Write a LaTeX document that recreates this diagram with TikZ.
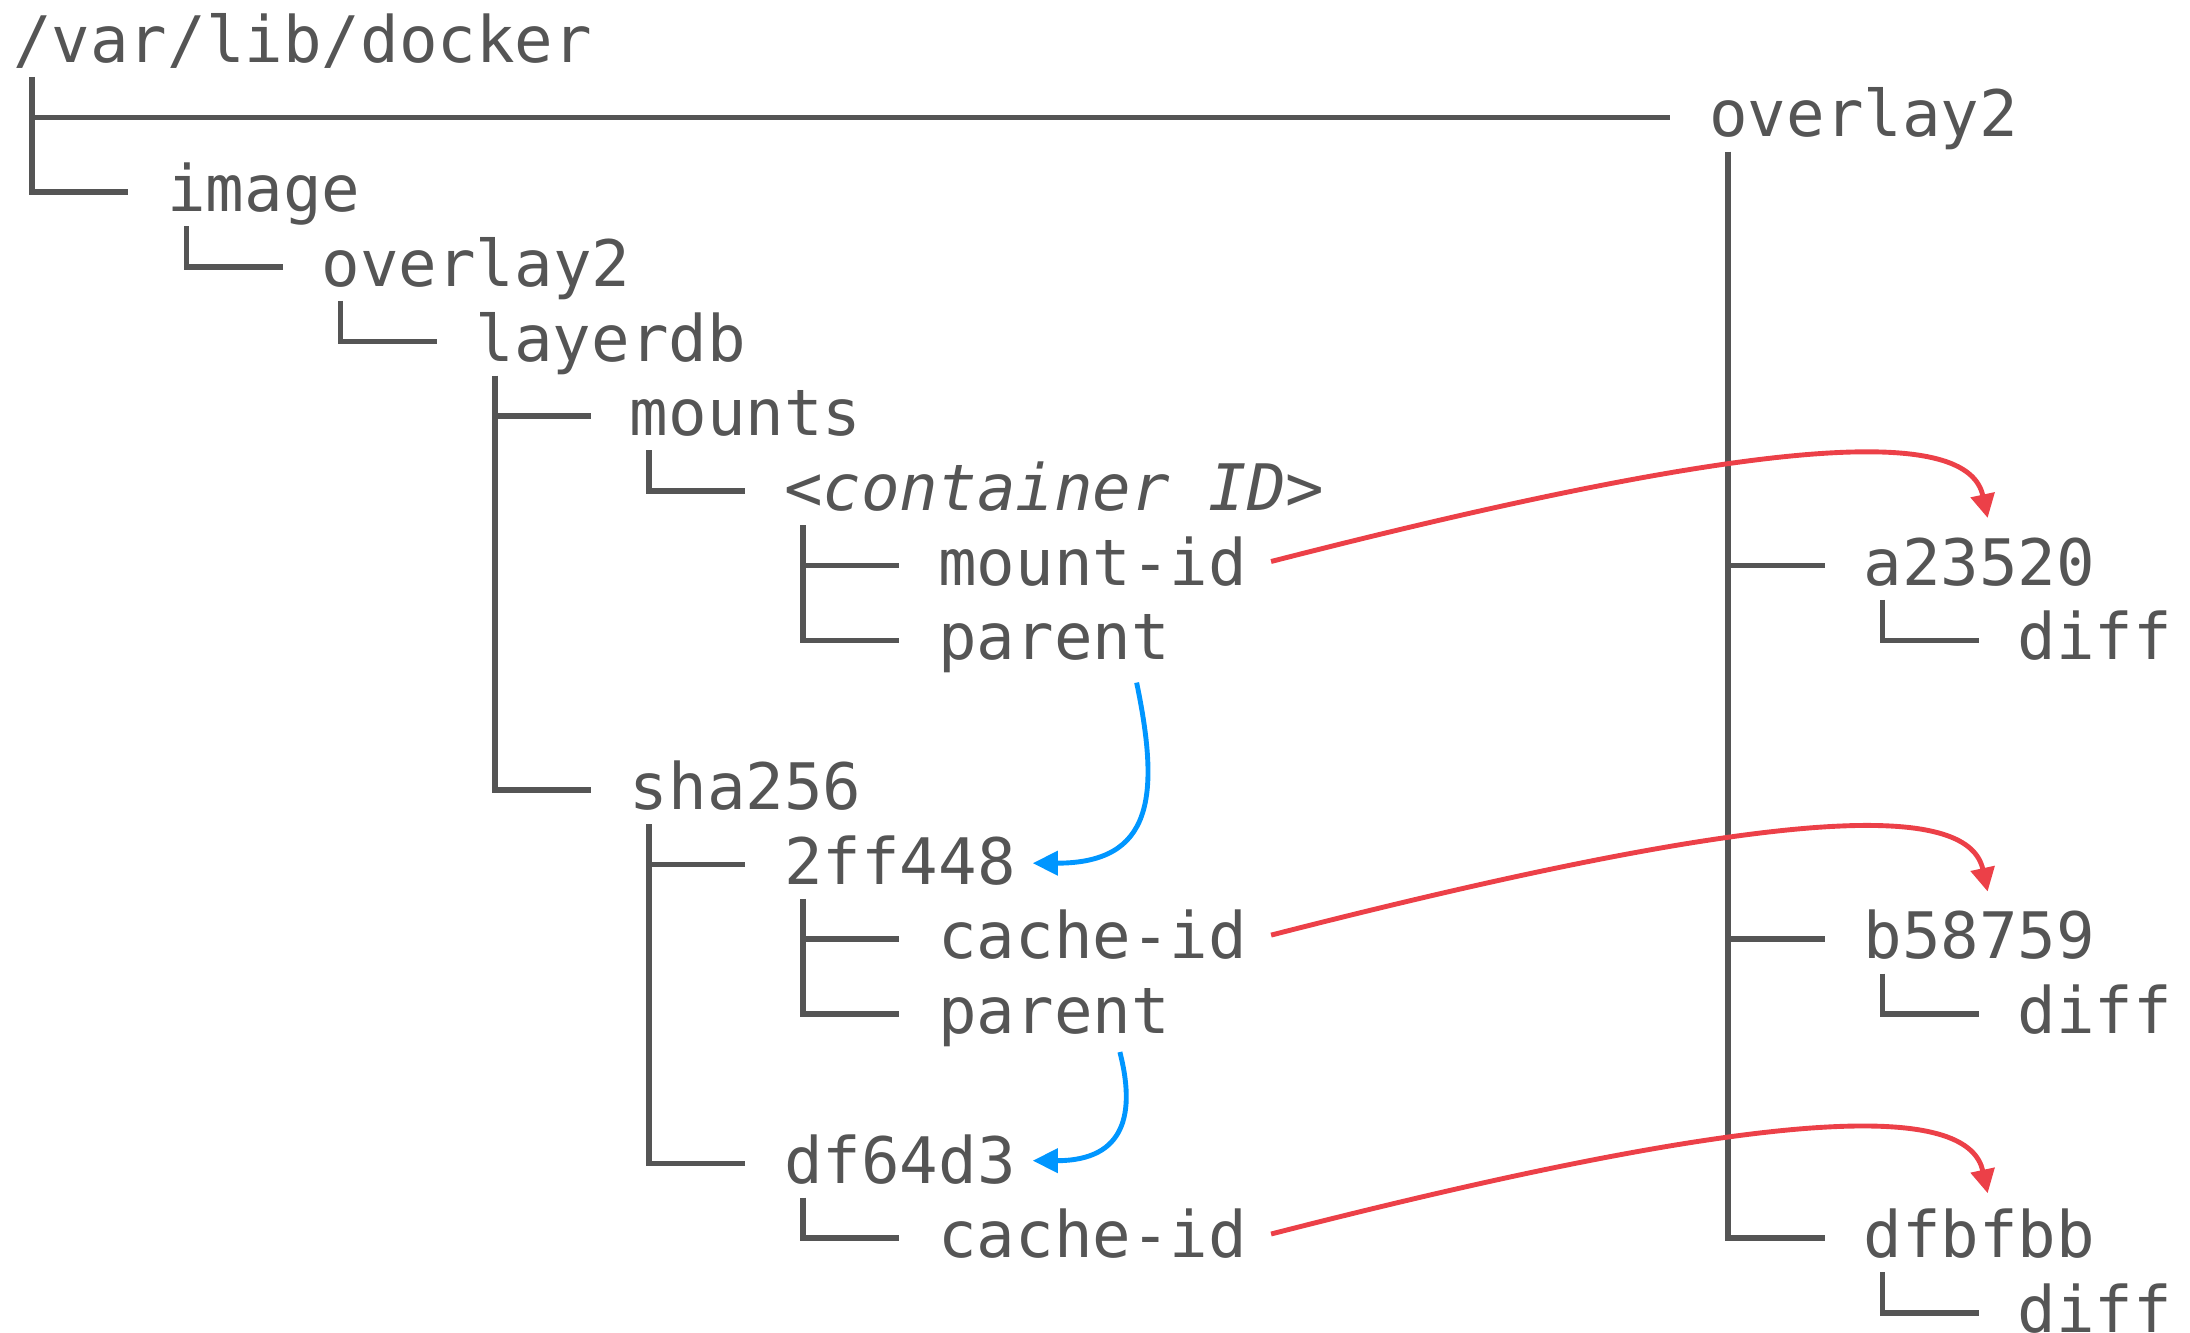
\documentclass[tikz,border=0pt]{standalone}
\usepackage{fontspec}
\usetikzlibrary{arrows.meta,calc}
\newfontfamily\treefont{DejaVu Sans Mono}
\definecolor{ink}{RGB}{85,85,85}
\definecolor{linkred}{RGB}{236,64,72}
\definecolor{linkblue}{RGB}{0,150,255}
\tikzset{
  % one unit = one character cell of the monospaced listing
  x=27.6pt, y=-53.5pt,
  lbl/.style={anchor=base west, inner sep=0pt, text height=34pt, text depth=0pt,
    text=ink, font=\treefont\fontsize{45.9}{55}\selectfont},
  tree/.style={draw=ink, line width=4pt, line join=miter},
  redlink/.style={draw=linkred, line width=3.5pt, -{Triangle[length=17pt,width=17pt]}},
  bluelink/.style={draw=linkblue, line width=3.5pt, -{Triangle[length=18pt,width=17pt]}},
}
\begin{document}
\begin{tikzpicture}
\useasboundingbox (-9.2pt,30.5pt) rectangle (1558.8pt,-923.5pt);

% ---- directory names (column, row baseline) ----
\node[lbl] (docker)  at (0,0.262)  {/var/lib/docker};
\node[lbl] (ovl)     at (44,1.262) {overlay2};
\node[lbl] (image)   at (4,2.262)  {image};
\node[lbl] (ovlimg)  at (8,3.262)  {overlay2};
\node[lbl] (layerdb) at (12,4.262) {layerdb};
\node[lbl] (mounts)  at (16,5.262) {mounts};
\node[lbl] (cid)     at (20,6.262) {<\textit{container ID}>};
\node[lbl] (mountid) at (24,7.262) {mount-id};
\node[lbl] (parentA) at (24,8.262) {parent};
\node[lbl] (sha)     at (16,10.262) {sha256};
\node[lbl] (lay2ff)  at (20,11.262) {2ff448};
\node[lbl] (cacheA)  at (24,12.262) {cache-id};
\node[lbl] (parentB) at (24,13.262) {parent};
\node[lbl] (laydf)   at (20,15.262) {df64d3};
\node[lbl] (cacheB)  at (24,16.262) {cache-id};
\node[lbl] (a235)    at (48,7.262)  {a23520};
\node[lbl] (diffA)   at (52,8.262)  {diff};
\node[lbl] (b587)    at (48,12.262) {b58759};
\node[lbl] (diffB)   at (52,13.262) {diff};
\node[lbl] (dfbf)    at (48,16.262) {dfbfbb};
\node[lbl] (diffC)   at (52,17.262) {diff};

% ---- tree branches ----
\draw[tree] (0.5,0.458) -- (0.5,2) -- (3,2);
\draw[tree] (0.5,1) -- (43,1);
\draw[tree] (4.5,2.458) -- (4.5,3) -- (7,3);
\draw[tree] (8.5,3.458) -- (8.5,4) -- (11,4);
\draw[tree] (12.5,4.458) -- (12.5,10) -- (15,10);
\draw[tree] (12.5,5) -- (15,5);
\draw[tree] (16.5,5.458) -- (16.5,6) -- (19,6);
\draw[tree] (20.5,6.458) -- (20.5,8) -- (23,8);
\draw[tree] (20.5,7) -- (23,7);
\draw[tree] (16.5,10.458) -- (16.5,15) -- (19,15);
\draw[tree] (16.5,11) -- (19,11);
\draw[tree] (20.5,11.458) -- (20.5,13) -- (23,13);
\draw[tree] (20.5,12) -- (23,12);
\draw[tree] (20.5,15.458) -- (20.5,16) -- (23,16);
\draw[tree] (44.5,1.458) -- (44.5,16) -- (47,16);
\draw[tree] (44.5,7) -- (47,7);
\draw[tree] (44.5,12) -- (47,12);
\draw[tree] (48.5,7.458) -- (48.5,8) -- (51,8);
\draw[tree] (48.5,12.458) -- (48.5,13) -- (51,13);
\draw[tree] (48.5,16.458) -- (48.5,17) -- (51,17);

% ---- id links into the layer store ----
\draw[redlink] ([xshift=17pt]mountid.east) .. controls +(390pt,100pt) and +(-13pt,60pt) .. ([xshift=6pt,yshift=14pt]a235.north);
\draw[redlink] ([xshift=17pt]cacheA.east) .. controls +(390pt,100pt) and +(-13pt,60pt) .. ([xshift=6pt,yshift=14pt]b587.north);
\draw[redlink] ([xshift=17pt]cacheB.east) .. controls +(390pt,100pt) and +(-13pt,60pt) .. ([xshift=6pt,yshift=12pt]dfbf.north);

% ---- parent links ----
\draw[bluelink] ([xshift=-24pt,yshift=-16pt]parentA.south east) .. controls +(17pt,-82pt) and +(86pt,0pt) .. ([xshift=12pt,yshift=-2pt]lay2ff.east);
\draw[bluelink] ([xshift=-36pt,yshift=-13pt]parentB.south east) .. controls +(11pt,-43pt) and +(67pt,0pt) .. ([xshift=12pt,yshift=-1pt]laydf.east);
\end{tikzpicture}
\end{document}
